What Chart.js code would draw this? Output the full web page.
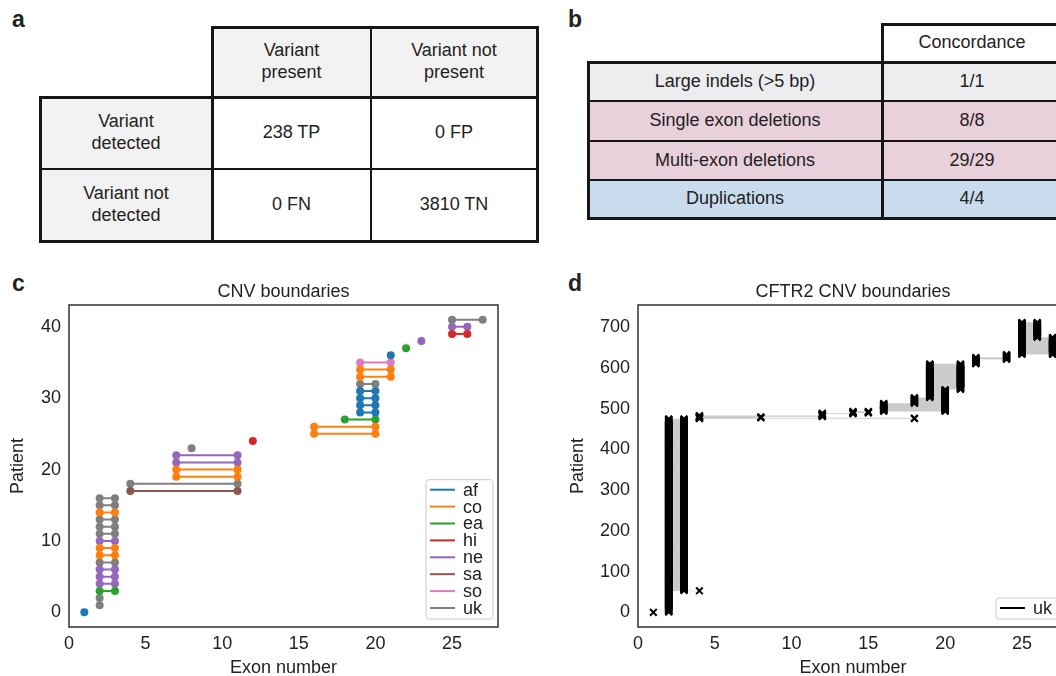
<!DOCTYPE html>
<html>
<head>
<meta charset="utf-8">
<script src="https://cdn.jsdelivr.net/npm/chart.js@4.4.1/dist/chart.umd.min.js"></script>
<style>
html, body { margin: 0; padding: 0; width: 1056px; height: 676px; overflow: hidden; background: #fff; }
body { position: relative; font-family: "Liberation Sans", Arial, sans-serif; color: #222; }
.lbl { position: absolute; font-weight: bold; font-size: 23px; line-height: 1; }
.cell { position: absolute; display: flex; align-items: center; justify-content: center; text-align: center; font-size: 18px; line-height: 1.2; white-space: pre-line; }
.rule { position: absolute; background: #161616; }
canvas { position: absolute; }
</style>
</head>
<body>
<div class="lbl" style="left:12px;top:8px">a</div>
<div class="lbl" style="left:568px;top:8px">b</div>
<div class="lbl" style="left:12px;top:272px">c</div>
<div class="lbl" style="left:568px;top:272px">d</div>
<div id="tables"></div>
<canvas id="cnv" width="530" height="420" style="left:0px;top:270px"></canvas>
<canvas id="cftr" width="540" height="420" style="left:560px;top:270px"></canvas>
<script>
// ---- panel a / b table contents ----
const tabAColHeads = ['Variant\npresent', 'Variant not\npresent'];
const tabARowHeads = ['Variant\ndetected', 'Variant not\ndetected'];
const tabACells = [['238 TP', '0 FP'], ['0 FN', '3810 TN']];

const tabBRows = ['Large indels (>5 bp)', 'Single exon deletions', 'Multi-exon deletions', 'Duplications'];
const tabBValues = ['1/1', '8/8', '29/29', '4/4'];
const tabBColours = ['#ededf0', '#e8d1db', '#e8d1db', '#c9dcee'];

// ---- panel c: one entry per patient ----
const populations = ['af', 'co', 'ea', 'hi', 'ne', 'sa', 'so', 'uk'];
const popColours = ['#1f77b4', '#ff7f0e', '#2ca02c', '#d62728', '#9467bd', '#8c564b', '#e377c2', '#7f7f7f'];
const cnvPop = ['af', 'uk', 'uk', 'ea', 'ne', 'ne', 'ne', 'uk', 'co', 'co', 'ne', 'uk', 'uk', 'uk', 'co', 'uk', 'uk',
    'sa', 'uk', 'co', 'co', 'ne', 'ne', 'uk', 'hi', 'co', 'co', 'ea', 'af', 'af', 'af', 'af', 'uk', 'co', 'co', 'so',
    'af', 'ea', 'ne', 'hi', 'ne', 'uk'];
const cnvStart = [1, 2, 2, 2, 2, 2, 2, 2, 2, 2, 2, 2, 2, 2, 2, 2, 2, 4, 4, 7, 7, 7, 7, 8, 12, 16, 16, 18,
    19, 19, 19, 19, 19, 19, 19, 19, 21, 22, 23, 25, 25, 25];
const cnvEnd = [1, 2, 2, 3, 3, 3, 3, 3, 3, 3, 3, 3, 3, 3, 3, 3, 3, 11, 11, 11, 11, 11, 11, 8, 12, 20, 20, 20,
    20, 20, 20, 20, 20, 21, 21, 21, 21, 22, 23, 26, 26, 27];

// ---- panel d: runs of patients sharing the same boundaries ----
const cftrStart = [1, 2, 2, 2, 4, 4, 4, 12, 12, 14, 16, 18, 19, 19, 22, 22, 24, 25, 25];
const cftrEnd   = [1, 2, 4, 3, 18, 8, 12, 12, 14, 15, 20, 20, 20, 21, 22, 24, 24, 27, 26];
const cftrCount = [1, 52, 1, 422, 2, 3, 3, 4, 2, 4, 20, 14, 20, 63, 11, 5, 7, 42, 37];

const exonTicks = [0, 5, 10, 15, 20, 25];
const cnvPatientTicks = [0, 10, 20, 30, 40];
const cftrPatientTicks = [0, 100, 200, 300, 400, 500, 600, 700];

// ---------------- tables ----------------
const host = document.getElementById('tables');

function addCell(x0, y0, x1, y1, text, bg) {
    const d = document.createElement('div');
    d.className = 'cell';
    d.style.left = x0 + 'px'; d.style.top = y0 + 'px';
    d.style.width = (x1 - x0) + 'px'; d.style.height = (y1 - y0) + 'px';
    d.style.background = bg;
    d.textContent = text;
    host.appendChild(d);
}

function addRule(x0, y0, x1, y1, w) {
    const d = document.createElement('div');
    d.className = 'rule';
    if (y0 === y1) {
        d.style.left = (x0 - w / 2) + 'px'; d.style.top = (y0 - w / 2) + 'px';
        d.style.width = (x1 - x0 + w) + 'px'; d.style.height = w + 'px';
    } else {
        d.style.left = (x0 - w / 2) + 'px'; d.style.top = (y0 - w / 2) + 'px';
        d.style.width = w + 'px'; d.style.height = (y1 - y0 + w) + 'px';
    }
    host.appendChild(d);
}

// table a
const ax = [40, 212, 371, 537], ay = [27, 97, 169, 241];
tabAColHeads.forEach((t, i) => addCell(ax[i + 1], ay[0], ax[i + 2], ay[1], t, '#f2f2f2'));
tabARowHeads.forEach((t, j) => {
    addCell(ax[0], ay[j + 1], ax[1], ay[j + 2], t, '#f2f2f2');
    tabACells[j].forEach((v, i) => addCell(ax[i + 1], ay[j + 1], ax[i + 2], ay[j + 2], v, '#fff'));
});
addRule(ax[1], ay[0], ax[3], ay[0], 3);
addRule(ax[0], ay[1], ax[3], ay[1], 3);
addRule(ax[0], ay[2], ax[3], ay[2], 2);
addRule(ax[0], ay[3], ax[3], ay[3], 3);
addRule(ax[0], ay[1], ax[0], ay[3], 3);
addRule(ax[1], ay[0], ax[1], ay[3], 3);
addRule(ax[2], ay[0], ax[2], ay[3], 2);
addRule(ax[3], ay[0], ax[3], ay[3], 3);

// table b
const bx = [588, 882, 1062], by = [24, 62, 101, 141, 180, 218];
addCell(bx[1], by[0], bx[2], by[1], 'Concordance', '#fff');
tabBRows.forEach((t, j) => {
    addCell(bx[0], by[j + 1], bx[1], by[j + 2], t, tabBColours[j]);
    addCell(bx[1], by[j + 1], bx[2], by[j + 2], tabBValues[j], tabBColours[j]);
});
addRule(bx[1], by[0], bx[2], by[0], 3);
addRule(bx[0], by[1], bx[2], by[1], 3);
addRule(bx[0], by[2], bx[2], by[2], 2);
addRule(bx[0], by[3], bx[2], by[3], 2);
addRule(bx[0], by[4], bx[2], by[4], 2);
addRule(bx[0], by[5], bx[2], by[5], 3);
addRule(bx[0], by[1], bx[0], by[5], 3);
addRule(bx[1], by[0], bx[1], by[5], 3);
addRule(bx[2], by[0], bx[2], by[5], 3);

// ---------------- charts ----------------
Chart.defaults.font.family = '"Liberation Sans", Arial, sans-serif';
Chart.defaults.font.size = 18;
Chart.defaults.color = '#222';

// frame, title above plot and a boxed legend inside the plot
const panelDecor = {
    id: 'panelDecor',
    afterDraw(chart, args, o) {
        const { ctx, chartArea: a } = chart;
        ctx.save();
        ctx.strokeStyle = '#333';
        ctx.lineWidth = 1.5;
        ctx.strokeRect(a.left, a.top, a.right - a.left, a.bottom - a.top);

        ctx.fillStyle = '#222';
        ctx.font = '18px "Liberation Sans", Arial, sans-serif';
        ctx.textAlign = 'center';
        ctx.textBaseline = 'middle';
        ctx.fillText(o.title, (a.left + a.right) / 2, a.top - 13);

        const pitch = 16.9, w = 67;
        const h = 21 + (o.labels.length - 1) * pitch;
        const x = a.right - 5 - w, y = a.bottom - 8 - h;
        ctx.beginPath();
        ctx.roundRect(x, y, w, h, 3);
        ctx.fillStyle = 'rgba(255,255,255,0.85)';
        ctx.fill();
        ctx.strokeStyle = '#cccccc';
        ctx.lineWidth = 1;
        ctx.stroke();
        ctx.textAlign = 'left';
        o.labels.forEach((t, i) => {
            const cy = y + 10 + i * pitch;
            ctx.strokeStyle = o.colours[i];
            ctx.lineWidth = 2;
            ctx.beginPath();
            ctx.moveTo(x + 4, cy);
            ctx.lineTo(x + 29, cy);
            ctx.stroke();
            ctx.fillStyle = '#222';
            ctx.fillText(t, x + 37, cy + 1);
        });
        ctx.restore();
    }
};

function makeOptions(title, yMin, yMax, yTicks, yWidth, labels, colours) {
    return {
        responsive: false,
        animation: false,
        devicePixelRatio: 1,
        layout: { padding: { top: 35, right: 32, left: 0, bottom: 0 } },
        scales: {
            x: {
                type: 'linear', min: 0, max: 28,
                grid: { display: false, drawTicks: false },
                border: { display: false },
                afterBuildTicks: axis => { axis.ticks = exonTicks.map(v => ({ value: v })); },
                afterFit: axis => { axis.height = 63; },
                ticks: { padding: 6, maxRotation: 0, autoSkip: false },
                title: { display: true, text: 'Exon number', padding: { top: 0, bottom: 11 } }
            },
            y: {
                type: 'linear', min: yMin, max: yMax,
                grid: { display: false, drawTicks: false },
                border: { display: false },
                afterBuildTicks: axis => { axis.ticks = yTicks.map(v => ({ value: v })); },
                afterFit: axis => { axis.width = yWidth; },
                ticks: { padding: 8, autoSkip: false },
                title: { display: true, text: 'Patient', padding: { top: 7, bottom: 0 } }
            }
        },
        plugins: {
            legend: { display: false },
            tooltip: { enabled: false },
            panelDecor: { title: title, labels: labels, colours: colours }
        }
    };
}

// panel c
const cnvDatasets = populations.map((p, k) => {
    const pts = [];
    cnvPop.forEach((pop, i) => {
        if (pop !== p) return;
        pts.push({ x: cnvStart[i], y: i });
        if (cnvEnd[i] !== cnvStart[i]) pts.push({ x: cnvEnd[i], y: i });
        pts.push({ x: cnvEnd[i], y: null });
    });
    return {
        label: p,
        data: pts,
        showLine: true,
        spanGaps: false,
        borderColor: popColours[k],
        borderWidth: 2,
        pointRadius: 4,
        pointBorderWidth: 0,
        pointBackgroundColor: popColours[k]
    };
});

new Chart(document.getElementById('cnv'), {
    type: 'scatter',
    data: { datasets: cnvDatasets },
    options: makeOptions('CNV boundaries', -2.05, 43.05, cnvPatientTicks, 69, populations, popColours),
    plugins: [panelDecor]
});

// panel d
const cftrPoints = [];
let patient = 0;
cftrCount.forEach((n, g) => {
    for (let k = 0; k < n; k++, patient++) {
        cftrPoints.push({ x: cftrStart[g], y: patient });
        if (cftrEnd[g] !== cftrStart[g]) cftrPoints.push({ x: cftrEnd[g], y: patient });
        cftrPoints.push({ x: cftrEnd[g], y: null });
    }
});

new Chart(document.getElementById('cftr'), {
    type: 'scatter',
    data: {
        datasets: [{
            label: 'uk',
            data: cftrPoints,
            showLine: true,
            spanGaps: false,
            borderColor: 'rgba(128,128,128,0.2)',
            borderWidth: 1,
            pointStyle: 'crossRot',
            pointRadius: 4.7,
            pointBorderWidth: 2,
            pointBorderColor: '#000'
        }]
    },
    options: makeOptions('CFTR2 CNV boundaries', -36, 755, cftrPatientTicks, 78, ['uk'], ['#000']),
    plugins: [panelDecor]
});
</script>
</body>
</html>
